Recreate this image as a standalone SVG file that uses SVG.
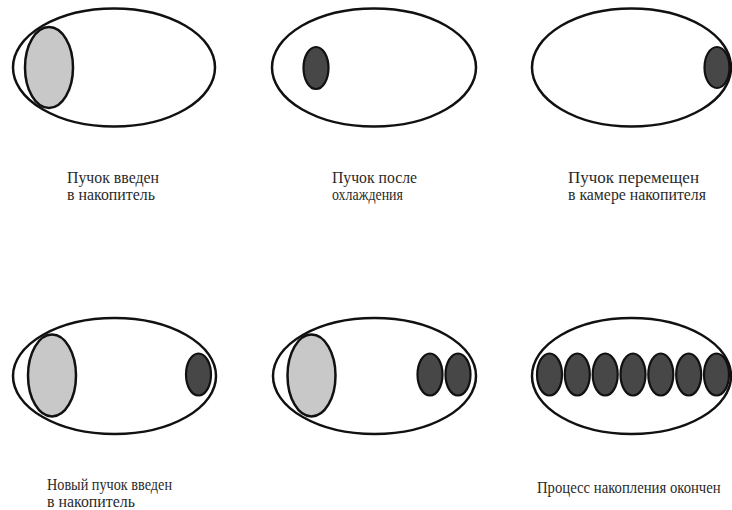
<svg xmlns="http://www.w3.org/2000/svg" width="732" height="510" viewBox="0 0 732 510">
<style>
.outer{fill:#fff;stroke:#111;stroke-width:2.5}
.light{fill:#c8c8c8;stroke:#111;stroke-width:2.5}
.dark{fill:#474747;stroke:#111;stroke-width:2.2}
.lbl{font-family:'Liberation Serif','DejaVu Serif','Times New Roman',serif;font-size:16px;fill:#2a2a2a}
</style>
<rect width="732" height="510" fill="#fff"/>
<g id="panel1">
<ellipse class="outer" cx="114" cy="67.5" rx="101" ry="59"/>
<ellipse class="light" cx="49" cy="67.5" rx="24" ry="40.5"/>
<text class="lbl" x="67" y="183" textLength="92" lengthAdjust="spacingAndGlyphs">Пучок введен</text>
<text class="lbl" x="67" y="200" textLength="88" lengthAdjust="spacingAndGlyphs">в накопитель</text>
</g>
<g id="panel2">
<ellipse class="outer" cx="374" cy="67.5" rx="102" ry="59"/>
<ellipse class="dark" cx="316" cy="68" rx="12.5" ry="21"/>
<text class="lbl" x="332" y="183" textLength="85" lengthAdjust="spacingAndGlyphs">Пучок после</text>
<text class="lbl" x="332" y="200" textLength="71" lengthAdjust="spacingAndGlyphs">охлаждения</text>
</g>
<g id="panel3">
<ellipse class="outer" cx="631.5" cy="67.5" rx="99.5" ry="59"/>
<ellipse class="dark" cx="717" cy="67.5" rx="12.5" ry="20.5"/>
<text class="lbl" x="568" y="183" textLength="131" lengthAdjust="spacingAndGlyphs">Пучок перемещен</text>
<text class="lbl" x="568" y="200" textLength="138" lengthAdjust="spacingAndGlyphs">в камере накопителя</text>
</g>
<g id="panel4">
<ellipse class="outer" cx="114.5" cy="376" rx="101.5" ry="58"/>
<ellipse class="light" cx="52" cy="375.5" rx="24" ry="41"/>
<ellipse class="dark" cx="198.5" cy="374.5" rx="12.5" ry="21"/>
<text class="lbl" x="47" y="490" textLength="125" lengthAdjust="spacingAndGlyphs">Новый пучок введен</text>
<text class="lbl" x="47" y="507" textLength="88" lengthAdjust="spacingAndGlyphs">в накопитель</text>
</g>
<g id="panel5">
<ellipse class="outer" cx="374.5" cy="376" rx="101.5" ry="58"/>
<ellipse class="light" cx="311.5" cy="375.5" rx="24" ry="41"/>
<ellipse class="dark" cx="430" cy="374.5" rx="12.5" ry="21"/>
<ellipse class="dark" cx="458" cy="374.5" rx="12.5" ry="21"/>
</g>
<g id="panel6">
<ellipse class="outer" cx="631.5" cy="376" rx="99.5" ry="58"/>
<ellipse class="dark" cx="549.5" cy="374.5" rx="12.5" ry="21"/>
<ellipse class="dark" cx="577.3" cy="374.5" rx="12.5" ry="21"/>
<ellipse class="dark" cx="605.2" cy="374.5" rx="12.5" ry="21"/>
<ellipse class="dark" cx="633" cy="374.5" rx="12.5" ry="21"/>
<ellipse class="dark" cx="660.8" cy="374.5" rx="12.5" ry="21"/>
<ellipse class="dark" cx="688.7" cy="374.5" rx="12.5" ry="21"/>
<ellipse class="dark" cx="716.5" cy="374.5" rx="12.5" ry="21"/>
<text class="lbl" transform="translate(537 493) scale(0.92 1)" x="0" y="0">Процесс накопления окончен</text>
</g>
<g id="connectors"/>
</svg>
